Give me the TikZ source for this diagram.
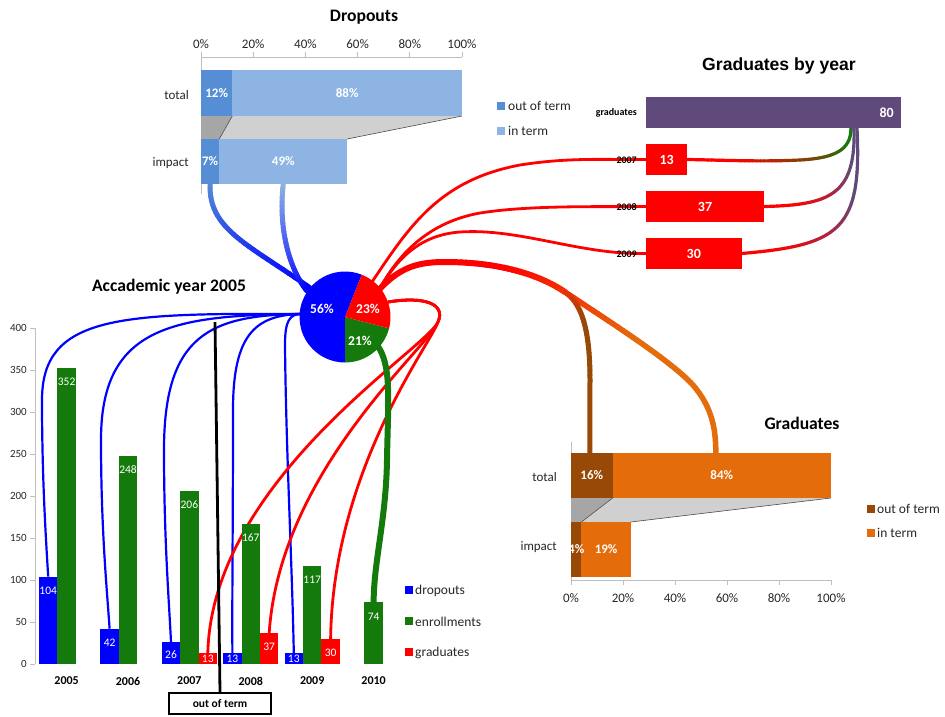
\documentclass[tikz,border=0pt]{standalone}
\usepackage{fontspec}
\setmainfont{Carlito}
\newfontfamily\arialfont{Liberation Sans}
\usetikzlibrary{calc}

\definecolor{dropblue}{RGB}{0,0,255}
\definecolor{enrgreen}{RGB}{20,122,12}
\definecolor{gradred}{RGB}{255,0,0}
\definecolor{outblue}{RGB}{85,142,213}
\definecolor{inblue}{RGB}{142,180,227}
\definecolor{outbrown}{RGB}{152,72,7}
\definecolor{inorange}{RGB}{228,108,10}
\definecolor{gradpurple}{RGB}{96,74,123}
\definecolor{shadedark}{RGB}{166,166,166}
\definecolor{shadelight}{RGB}{208,208,208}
\definecolor{axisgray}{RGB}{190,190,190}
\definecolor{ticktext}{RGB}{40,40,40}
\colorlet{gmix}{gradred!50!enrgreen}
\colorlet{redorange}{gradred!55!inorange}

\newcommand\xyp[2]{\pgfpointxy{#1}{#2}}
\newcommand\anc[1]{\pgfpointanchor{#1}{center}}
% Bezier #1..#4 stroked in short pieces, colour blending from #5 to #6
% between curve times #8 and #9, line width #7
\newcommand\blendcurve[9]{%
  \foreach \k in {0,...,29}{%
    \pgfmathsetmacro\ta{\k/30}%
    \pgfmathsetmacro\tb{(\k+1)/30}%
    \pgfmathsetmacro\mixv{max(0,min(100,100*((\k+0.5)/30-#8)/(#9-#8)))}%
    \begin{pgfscope}%
      \pgfsetlinewidth{#7}\pgfsetroundcap
      \pgfsetcolor{#6!\mixv!#5}%
      \pgfpathcurvebetweentime{\ta}{\tb}{#1}{#2}{#3}{#4}%
      \pgfusepath{stroke}%
    \end{pgfscope}}}

\tikzset{
  charttitle/.style={font=\bfseries\fontsize{17.6}{20}\selectfont, inner sep=0pt},
  ptick/.style={font=\fontsize{13}{15}\selectfont, text=ticktext, inner sep=0pt},
  catlab/.style={font=\fontsize{13}{15}\selectfont, text=ticktext, inner sep=0pt, anchor=east},
  pct/.style={font=\bfseries\fontsize{13}{15}\selectfont, text=white, inner sep=0pt},
  hbar/.style={inner sep=0pt, outer sep=0pt, anchor=north west},
  vbar/.style={inner sep=0pt, outer sep=0pt, anchor=south west, minimum width=18.4pt},
  legsq/.style={inner sep=0pt, outer sep=0pt, minimum size=8pt},
  legtxt/.style={font=\fontsize{13.5}{15}\selectfont, text=ticktext, inner sep=0pt, anchor=west},
  axisline/.style={draw=axisgray, line width=0.8pt},
  shadeedge/.style={draw=black!70, line width=0.6pt},
  atick/.style={font=\fontsize{11}{13}\selectfont, text=ticktext, inner sep=0pt, anchor=east},
  yearlab/.style={font=\bfseries\fontsize{12}{14}\selectfont, inner sep=0pt},
  vallab/.style={font=\fontsize{11.5}{13}\selectfont, text=white, inner sep=0pt},
  smalllab/.style={font=\bfseries\fontsize{10}{12}\selectfont, inner sep=0pt, anchor=east},
  barval/.style={font=\bfseries\fontsize{14}{16}\selectfont, text=white, inner sep=0pt},
  pielab/.style={font=\bfseries\fontsize{13.5}{16}\selectfont, text=white, inner sep=0pt},
  dcurve/.style={draw=dropblue, line width=2.2pt},
  rcurve/.style={draw=gradred, line width=2.8pt},
}

\begin{document}
\begin{tikzpicture}[x=1pt,y=-1pt]
\useasboundingbox (0,0) rectangle (945,716);
\fill[white] (0,0) rectangle (945,716);

% ---------------- Dropouts ----------------
\node[charttitle] (tdrop) at (364,17) {Dropouts};
\draw[axisline] (201,57) -- (462,57);
\draw[axisline] (201,57) -- (201,194);
\foreach \i/\p in {0/0,1/20,2/40,3/60,4/80,5/100}{
  \draw[axisline] ({201+52.2*\i},52) -- ({201+52.2*\i},57);
  \node[ptick] (dx\i) at ({201+52.2*\i},44) {\p\%};
}
\node[hbar, minimum width=31.3pt, minimum height=46pt] (dtotO) at (201,70) {};
\node[hbar, minimum width=229.7pt, minimum height=46pt] (dtotI) at (232.3,70) {};
\node[hbar, minimum width=18.3pt, minimum height=45pt] (dimpO) at (201,139) {};
\node[hbar, minimum width=127.9pt, minimum height=45pt] (dimpI) at (219.3,139) {};
\fill[shadedark] (dtotO.south west) -- (dtotO.south east) -- (dimpO.north east) -- (dimpO.north west) -- cycle;
\fill[shadelight] (dtotI.south west) -- (dtotI.south east) -- (dimpI.north east) -- (dimpI.north west) -- cycle;
\draw[shadeedge] (dtotO.south east) -- (dimpO.north east);
\draw[shadeedge] (dtotI.south east) -- (dimpI.north east);

% dropout flows into the pie
\coordinate (pieD1) at (313,290);
\coordinate (pieD2) at (307,291);
\blendcurve{\pgfpointanchor{dimpO}{south}}{\xyp{208}{230}}{\xyp{250}{245}}{\anc{pieD1}}{outblue}{dropblue}{5pt}{0}{1}
\blendcurve{\pgfpointanchor{dimpI}{south}}{\xyp{278}{230}}{\xyp{290}{270}}{\anc{pieD2}}{inblue}{dropblue}{5pt}{0}{1}

\fill[outblue] (dtotO.north west) rectangle (dtotO.south east);
\fill[inblue] (dtotI.north west) rectangle (dtotI.south east);
\fill[outblue] (dimpO.north west) rectangle (dimpO.south east);
\fill[inblue] (dimpI.north west) rectangle (dimpI.south east);
\node[pct] (p12) at (dtotO) {12\%};
\node[pct] (p88) at (dtotI) {88\%};
\node[pct] (p7) at (dimpO) {7\%};
\node[pct] (p49) at (dimpI) {49\%};
\node[catlab] (ltotd) at (189,95) {total};
\node[catlab] (limpd) at (189,163) {impact};
\node[legsq, fill=outblue] (lqd1) at (501,105.5) {};
\node[legtxt] (ltd1) at (508,106) {out of term};
\node[legsq, fill=inblue] (lqd2) at (501,130.5) {};
\node[legtxt] (ltd2) at (508,131) {in term};

% ---------------- Graduates by year (bars as nodes, drawn later) ----------------
\node[font=\arialfont\bfseries\fontsize{17.6}{20}\selectfont, inner sep=0pt] (tgby) at (779,66) {Graduates by year};
\node[hbar, minimum width=255pt, minimum height=31pt] (gby) at (646,97) {};
\node[hbar, minimum width=41.4pt, minimum height=31pt] (g07) at (646,144) {};
\node[hbar, minimum width=118pt, minimum height=31pt] (g08) at (646,191) {};
\node[hbar, minimum width=95.6pt, minimum height=31pt] (g09) at (646,238) {};
\coordinate (gbyS1) at ([xshift=205pt]gby.south west);
\coordinate (gbyS2) at ([xshift=208pt]gby.south west);
\coordinate (gbyS3) at ([xshift=211pt]gby.south west);

% ---------------- Graduates chart (bars as nodes, drawn later) ----------------
\node[hbar, minimum width=41.6pt, minimum height=45pt] (gtotO) at (571,453) {};
\node[hbar, minimum width=218.4pt, minimum height=45pt] (gtotI) at (612.6,453) {};
\node[hbar, minimum width=10.4pt, minimum height=55pt] (gimpO) at (571,522) {};
\node[hbar, minimum width=49.4pt, minimum height=55pt] (gimpI) at (581.4,522) {};

% ---------------- Academic year bars ----------------
\node[vbar, minimum height=87.36pt] (d05) at (39,664) {};
\node[vbar, minimum height=295.7pt] (e05) at (57.4,664) {};
\node[vbar, minimum height=35.3pt] (d06) at (100.4,664) {};
\node[vbar, minimum height=208.3pt] (e06) at (118.8,664) {};
\node[vbar, minimum height=21.8pt] (d07) at (161.8,664) {};
\node[vbar, minimum height=173pt] (e07) at (180.2,664) {};
\node[vbar, minimum height=10.9pt] (r07) at (198.6,664) {};
\node[vbar, minimum height=10.9pt] (d08) at (223.2,664) {};
\node[vbar, minimum height=140.3pt] (e08) at (241.6,664) {};
\node[vbar, minimum height=31.1pt] (r08) at (260,664) {};
\node[vbar, minimum height=10.9pt] (d09) at (284.6,664) {};
\node[vbar, minimum height=98.3pt] (e09) at (303,664) {};
\node[vbar, minimum height=25.2pt] (r09) at (321.4,664) {};
\node[vbar, minimum height=62.2pt] (e10) at (364.4,664) {};

% ---------------- connectors ----------------
\coordinate (pie) at (345,317);
\coordinate (pieL) at (301,314);
\coordinate (pieR) at (388,302);
\coordinate (pieT1) at (372,282);
\coordinate (pieT2) at (380,288);
\coordinate (pieT3) at (378,291);
\coordinate (pieG) at (377,345);
\coordinate (split) at (565,292);
\coordinate (gtotT) at ([xshift=-6pt]gtotI.north);
\coordinate (gtotB) at ([xshift=-2pt]gtotO.north);

% dropouts by year
\draw[dcurve] (pieL) .. controls (120,313) and (42,315) .. (42,400) .. controls (42,480) and (46,540) .. (d05.north);
\draw[dcurve] (pieL) .. controls (170,315) and (101,328) .. (101,440) .. controls (101,530) and (107,590) .. (d06.north);
\draw[dcurve] (pieL) .. controls (210,315) and (164,335) .. (164,450) .. controls (164,540) and (169,600) .. (d07.north);
\draw[dcurve] (pieL) .. controls (255,315) and (233,335) .. (233,410) .. controls (233,520) and (232,600) .. (d08.north);
\draw[dcurve] (pieL) .. controls (289,314) and (285,322) .. (285,345) .. controls (286,450) and (292,560) .. (d09.north);

% graduates by year, down to the bars
\draw[rcurve] (pieR) .. controls (425,296) and (446,304) .. (438,322) .. controls (425,350) and (212,480) .. (r07.north);
\draw[rcurve] (pieR) .. controls (425,296) and (446,304) .. (438,322) .. controls (428,348) and (280,470) .. (r08.north);
\draw[rcurve] (pieR) .. controls (425,296) and (446,304) .. (438,322) .. controls (430,345) and (333,470) .. (r09.north);

% graduates by year, up to the year bars
\draw[rcurve] (pieT1) .. controls (410,225) and (440,180) .. (520,165) .. controls (570,157) and (610,160) .. (g07.west);
\draw[rcurve] (pieT2) .. controls (400,252) and (430,222) .. (480,213) .. controls (530,205) and (600,207) .. (g08.west);
\draw[rcurve] (pieT2) .. controls (398,258) and (420,235) .. (460,232) .. controls (520,228) and (580,255) .. (g09.west);

% year bars gathered into the total
\blendcurve{\anc{gbyS1}}{\xyp{851}{150}}{\xyp{835}{158}}{\xyp{800}{160}}{enrgreen}{gmix}{3.2pt}{0.3}{1}
\blendcurve{\xyp{800}{160}}{\xyp{760}{162}}{\xyp{720}{160}}{\pgfpointanchor{g07}{east}}{gmix}{gradred}{3.2pt}{0}{0.6}
\blendcurve{\anc{gbyS2}}{\xyp{856}{195}}{\xyp{830}{205}}{\pgfpointanchor{g08}{east}}{gradpurple}{gradred}{3.2pt}{0.25}{0.85}
\blendcurve{\anc{gbyS3}}{\xyp{862}{230}}{\xyp{840}{245}}{\pgfpointanchor{g09}{east}}{gradpurple}{gradred}{3.2pt}{0.3}{0.9}

% graduates in term / out of term
\draw[gradred, line width=6pt] (pieT3) .. controls (400,266) and (420,262) .. (445,262);
\blendcurve{\xyp{445}{262}}{\xyp{500}{262}}{\xyp{540}{275}}{\anc{split}}{gradred}{redorange}{6pt}{0.4}{1}
\blendcurve{\anc{split}}{\xyp{610}{322}}{\xyp{670}{360}}{\xyp{693}{385}}{redorange}{inorange}{5.5pt}{0}{0.5}
\draw[inorange, line width=5.5pt] (693,385) .. controls (710,405) and (716,425) .. (gtotT);
\blendcurve{\anc{split}}{\xyp{582}{304}}{\xyp{590}{330}}{\xyp{590}{380}}{redorange}{outbrown}{5pt}{0}{0.5}
\draw[outbrown, line width=5pt] (590,380) -- (gtotB);

% enrollments carried to 2010
\draw[enrgreen, line width=6pt] (pieG) .. controls (392,365) and (388,400) .. (387,460) .. controls (386,520) and (374,560) .. (e10.north);

% ---------------- Academic year chart ----------------
\node[charttitle] (tacad) at (169,287) {Accademic year 2005};
\draw[axisline] (35,328) -- (35,664);
\foreach \v in {0,50,...,400}{
  \draw[axisline] (30,{664-0.84*\v}) -- (35,{664-0.84*\v});
  \node[atick] (at\v) at (27,{664-0.84*\v}) {\v};
}
\foreach \b/\c in {d05/dropblue,d06/dropblue,d07/dropblue,d08/dropblue,d09/dropblue,
                   e05/enrgreen,e06/enrgreen,e07/enrgreen,e08/enrgreen,e09/enrgreen,e10/enrgreen,
                   r07/gradred,r08/gradred,r09/gradred}{
  \fill[\c] (\b.north west) rectangle (\b.south east);
}
\node[vallab] (v104) at (48.2,591) {104};
\node[vallab] (v352) at (66.6,382) {352};
\node[vallab] (v42) at (109.6,643) {42};
\node[vallab] (v248) at (128,470) {248};
\node[vallab] (v26) at (171,655) {26};
\node[vallab] (v206) at (189.4,505) {206};
\node[vallab] (v13a) at (207.8,659) {13};
\node[vallab] (v13b) at (232.4,659) {13};
\node[vallab] (v167) at (250.8,538) {167};
\node[vallab] (v37) at (269.2,647) {37};
\node[vallab] (v13c) at (293.8,659) {13};
\node[vallab] (v117) at (312.2,580) {117};
\node[vallab] (v30) at (330.6,653) {30};
\node[vallab] (v74) at (373.6,617) {74};
\foreach \y/\x in {2005/66.6,2006/128,2007/189.4,2008/250.8,2009/312.2,2010/373.6}{
  \node[yearlab] (yl\y) at (\x,681) {\y};
}
\node[legsq, fill=dropblue] (lqa1) at (409,590) {};
\node[legtxt] (lta1) at (415,591) {dropouts};
\node[legsq, fill=enrgreen] (lqa2) at (409,621) {};
\node[legtxt] (lta2) at (415,622) {enrollments};
\node[legsq, fill=gradred] (lqa3) at (409,652) {};
\node[legtxt] (lta3) at (415,653) {graduates};

% ---------------- Graduates by year bars ----------------
\fill[gradpurple] (gby.north west) rectangle (gby.south east);
\fill[gradred] (g07.north west) rectangle (g07.south east);
\fill[gradred] (g08.north west) rectangle (g08.south east);
\fill[gradred] (g09.north west) rectangle (g09.south east);
\node[barval, anchor=east] (v80) at (894,113) {80};
\node[barval] (vg13) at (g07) {13};
\node[barval] (vg37) at (g08) {37};
\node[barval] (vg30) at (g09) {30};
\node[smalllab] (lgr) at (637,113) {graduates};
\node[smalllab] (l07) at (637,160) {2007};
\node[smalllab] (l08) at (637,207) {2008};
\node[smalllab] (l09) at (637,254) {2009};

% ---------------- Graduates chart ----------------
\node[charttitle] (tgrad) at (802,423) {Graduates};
\draw[axisline] (571,442) -- (571,580) -- (831,580);
\foreach \i/\p in {0/0,1/20,2/40,3/60,4/80,5/100}{
  \draw[axisline] ({571+52*\i},580) -- ({571+52*\i},585);
  \node[ptick] (gx\i) at ({571+52*\i},598) {\p\%};
}
\fill[shadedark] (gtotO.south west) -- (gtotO.south east) -- (gimpO.north east) -- (gimpO.north west) -- cycle;
\fill[shadelight] (gtotI.south west) -- (gtotI.south east) -- (gimpI.north east) -- (gimpI.north west) -- cycle;
\draw[shadeedge] (gtotO.south east) -- (gimpO.north east);
\draw[shadeedge] (gtotI.south east) -- (gimpI.north east);
\fill[outbrown] (gtotO.north west) rectangle (gtotO.south east);
\fill[inorange] (gtotI.north west) rectangle (gtotI.south east);
\fill[outbrown] (gimpO.north west) rectangle (gimpO.south east);
\fill[inorange] (gimpI.north west) rectangle (gimpI.south east);
\node[pct] (p16) at (gtotO) {16\%};
\node[pct] (p84) at (gtotI) {84\%};
\node[pct] (p4) at (gimpO) {4\%};
\node[pct] (p19) at (gimpI) {19\%};
\node[catlab] (ltotg) at (557,477) {total};
\node[catlab] (limpg) at (557,547) {impact};
\node[legsq, fill=outbrown] (lqg1) at (870.5,508.5) {};
\node[legtxt] (ltg1) at (877,509) {out of term};
\node[legsq, fill=inorange] (lqg2) at (870.5,532.5) {};
\node[legtxt] (ltg2) at (877,533) {in term};

% ---------------- Pie ----------------
\fill[dropblue] (pie) -- ++(-68.4:45.5) arc[start angle=-68.4, end angle=-270, radius=45.5] -- cycle;
\fill[enrgreen] (pie) -- ++(90:45.5) arc[start angle=90, end angle=14.4, radius=45.5] -- cycle;
\fill[gradred] (pie) -- ++(14.4:45.5) arc[start angle=14.4, end angle=-68.4, radius=45.5] -- cycle;
\node[pielab] (l56) at (322,309) {56\%};
\node[pielab] (l23) at (368,309) {23\%};
\node[pielab] (l21) at (360,341) {21\%};

% ---------------- out of term marker ----------------
\coordinate (ootTop) at (215,322);
\node[draw, line width=2.4pt, minimum width=102pt, minimum height=21pt, inner sep=0pt,
      font=\bfseries\fontsize{11.5}{13}\selectfont] (oot) at (220,703.5) {out of term};
\draw[line width=2.8pt] (ootTop) -- (oot.north);
\end{tikzpicture}
\end{document}
